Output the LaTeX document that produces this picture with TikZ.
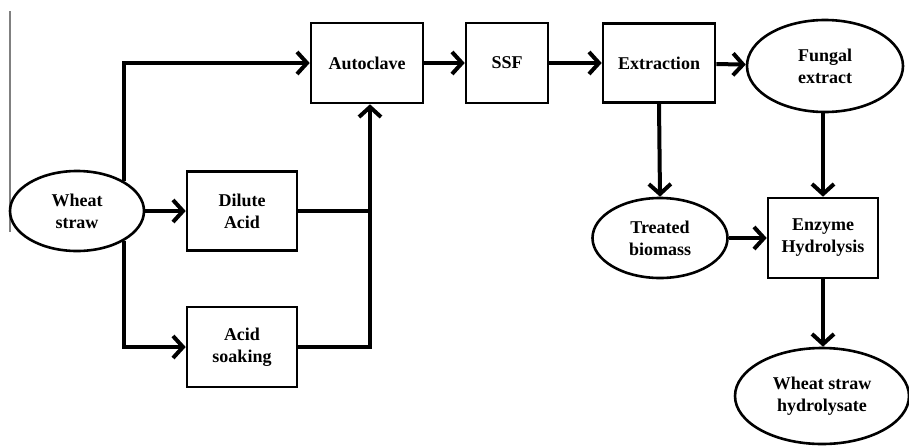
\documentclass[tikz,border=0pt]{standalone}
\usepackage{fontspec}
\setmainfont{Liberation Serif}
\usetikzlibrary{arrows.meta, positioning, shapes.geometric}
\tikzset{style={font=\bfseries\fontsize{18}{22}\selectfont}}

\begin{document}
\begin{tikzpicture}[x=1pt,y=-1pt,>={Straight Barb[length=10pt,width=22pt,line width=4pt]},
                box/.style={rectangle,draw=black,line width=2.6pt,align=center,inner sep=0pt},
                oval/.style={ellipse,draw=black,line width=2.6pt,align=center,inner sep=0pt},
                flow/.style={->,line width=4pt}]
                \useasboundingbox (0,0) rectangle (909,447);
                \draw[gray,line width=1.2pt] (10,11) -- (10,232);
                % feedstock and pretreatments
                \node[oval,minimum width=134pt,minimum height=80pt] (wheat) at (77,211) {Wheat\\straw};
                \node[box,minimum width=110pt,minimum height=79pt] (dilute) at (242,211) {Dilute\\Acid};
                \node[box,minimum width=110pt,minimum height=80pt] (soak) at (242,347) {Acid\\soaking};
                % main line
                \node[box,minimum width=112pt,minimum height=80pt] (auto) at (367,63) {Autoclave};
                \node[box,minimum width=82pt,minimum height=80pt] (ssf) at (507,63) {SSF};
                \node[box,minimum width=112pt,minimum height=79pt] (extr) at (659,63) {Extraction};
                \node[oval,minimum width=156pt,minimum height=92pt] (fungal) at (825,66) {Fungal\\extract};
                \node[oval,minimum width=135pt,minimum height=80pt] (treated) at (660,238) {Treated\\biomass};
                \node[box,minimum width=110pt,minimum height=80pt] (enzyme) at (823,238) {Enzyme\\Hydrolysis};
                \node[oval,minimum width=174pt,minimum height=96pt] (hydro) at (822,396) {Wheat straw\\hydrolysate};
                \coordinate (join) at (370,347);
                \draw[flow] (wheat.32) |- (auto.west);
                \draw[flow] (wheat.-32) |- (soak.west);
                \draw[flow] (wheat) -- (dilute);
                \draw[line width=4pt] (dilute.east) -- (dilute.east -| join);
                \draw[flow] (soak.east) -- (join) -- (auto.south -| join);
                \draw[flow] (auto) -- (ssf);
                \draw[flow] (ssf) -- (extr);
                \draw[flow] (extr) -- (fungal);
                \draw[flow] (extr.south) -- (treated.north);
                \draw[flow] (fungal.south -| enzyme) -- (enzyme.north);
                \draw[flow] (treated) -- (enzyme);
                \draw[flow] (enzyme.south) -- (hydro.north -| enzyme);
\end{tikzpicture}
\end{document}
